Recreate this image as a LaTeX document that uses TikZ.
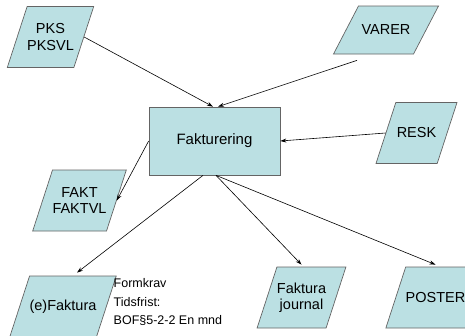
\documentclass[tikz,border=0pt]{standalone}
\usepackage{fontspec}
\setmainfont{Liberation Sans}
\definecolor{BOXFILL}{RGB}{187,224,227}
\definecolor{BOXLINE}{RGB}{100,100,100}
\usetikzlibrary{shapes.geometric,arrows.meta}
% label of fixed height, so that the slant of the side follows it
\newcommand\storelabel[2][61pt]{\vbox to #1{\vss\halign{\hfil##\hfil\cr#2\crcr}\vss}}

\begin{document}
\begin{tikzpicture}[x=1pt,y=-1pt,
    store/.style={trapezium,trapezium stretches body,trapezium left angle=72,trapezium right angle=108,
                  draw=BOXLINE,fill=BOXFILL,line width=0.7pt,inner sep=0pt,
                  minimum width=81pt,font=\fontsize{14.5}{16.5}\selectfont}]
            \useasboundingbox (0,0) rectangle (465,335);

            \node[draw=BOXLINE,fill=BOXFILL,line width=0.7pt,minimum width=131pt,minimum height=68pt,
                  font=\fontsize{15}{18}\selectfont] (fakt) at (214.5,141) {Fakturering};

            \node[store] (pks) at (50.5,37) {\storelabel{PKS\cr PKSVL}};
            \node[store,trapezium left angle=62.5,trapezium right angle=117.5,
                  minimum width=105pt] (varer) at (386,30) {\storelabel[48pt]{VARER}};
            \node[store] (resk) at (416.5,133) {\storelabel{RESK}};
            \node[store] (faktvl) at (79.5,200.5) {\storelabel{FAKT\cr FAKTVL}};
            \node[store,minimum width=89pt] (efaktura) at (63,306.5) {\storelabel{(e)Faktura}};
            \node[store] (journal) at (301.5,297.5) {\storelabel{Faktura\cr journal}};
            \node[store] (poster) at (435.5,297.5) {\storelabel{POSTER}};

            %\node at (113,302) {Formkrav};
            \node[anchor=west,align=left,inner sep=0pt,font=\fontsize{12.5}{18.5}\selectfont]
                (krav) at (113.5,302) {Formkrav\\Tidsfrist:\\BOF§5-2-2 En mnd};

            \begin{scope}[every path/.append style={-{Stealth[length=6pt,width=4pt]},line width=0.6pt}]
              \draw (pks.east) to ([xshift=-1.5pt]fakt.north);
              \draw ([xshift=-29pt,yshift=-6pt]varer.south) to ([xshift=3.5pt]fakt.north);
              \draw (resk.west) to (fakt.east);
              \draw (fakt.west) to (faktvl.east);
              \draw ([xshift=-11.5pt]fakt.south) to ([xshift=14pt,yshift=3pt]efaktura.north);
              \draw ([xshift=1.5pt]fakt.south) to ([yshift=2pt]journal.north);
              \draw ([xshift=1.5pt]fakt.south) to ([yshift=2pt]poster.north);
            \end{scope}
        \end{tikzpicture}
\end{document}
